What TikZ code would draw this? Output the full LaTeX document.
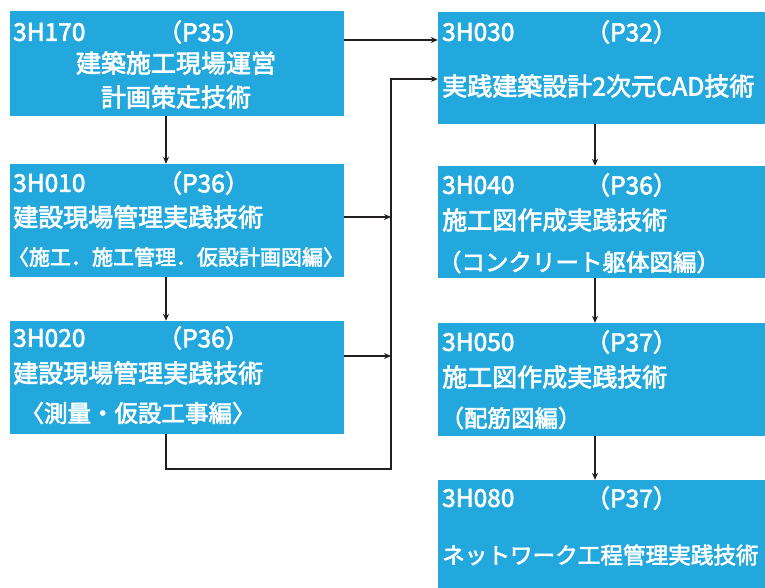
\documentclass[tikz,border=0pt]{standalone}
\usepackage{fontspec}
\newfontfamily\jp[FakeBold=2.6]{Noto Sans CJK JP}
\usetikzlibrary{arrows.meta}
\definecolor{boxblue}{RGB}{35,168,222}
\definecolor{lnc}{RGB}{35,31,32}
\begin{document}
\begin{tikzpicture}[x=1pt,y=-1pt,
  box/.style={fill=boxblue,draw=none,inner sep=0},
  t/.style={text=white,inner sep=0,font=\jp\fontsize{25}{27}\selectfont},
  ti/.style={text=white,inner sep=0,font=\jp\fontsize{24.5}{26}\selectfont},
  ts/.style={text=white,inner sep=0,font=\jp\fontsize{21}{23}\selectfont},
  tm/.style={text=white,inner sep=0,font=\jp\fontsize{23.5}{25}\selectfont},
  tn/.style={text=white,inner sep=0,font=\jp\fontsize{22.6}{24}\selectfont},
  arr/.style={draw=lnc,line width=1.1pt,-{Stealth[length=7pt,width=6pt]}}]
\useasboundingbox (0,0) rectangle (765,588);
\clip (0,0) rectangle (765,588);
% boxes
\node[box,minimum width=334pt,minimum height=105pt] (A) at (177,63.5) {};
\node[box,minimum width=334pt,minimum height=113pt] (B) at (177,220.5) {};
\node[box,minimum width=334pt,minimum height=113pt] (C) at (177,377.5) {};
\node[box,minimum width=337pt,minimum height=112pt] (D) at (606.5,68) {};
\node[box,minimum width=337pt,minimum height=112pt] (E) at (606.5,222) {};
\node[box,minimum width=337pt,minimum height=113pt] (F) at (606.5,379.5) {};
\node[box,minimum width=337pt,minimum height=118pt] (G) at (606.5,539) {};
% texts A
\node[ti,anchor=west] (A1) at (13,32) {3H170};
\node[ti] (A2) at (203.5,32) {（P35）};
\node[t] (A3) at (176,63) {建築施工現場運営};
\node[t] (A4) at (176,97) {計画策定技術};
% B
\node[ti,anchor=west] (B1) at (13,183) {3H010};
\node[ti] (B2) at (203.5,183) {（P36）};
\node[t,anchor=west] (B3) at (13,217) {建設現場管理実践技術};
\node[ts] (B4) at (176,257) {〈施工．施工管理．仮設計画図編〉};
% C
\node[ti,anchor=west] (C1) at (13,338) {3H020};
\node[ti] (C2) at (203.5,338) {（P36）};
\node[t,anchor=west] (C3) at (13,373) {建設現場管理実践技術};
\node[tm] (C4) at (138,413) {〈測量・仮設工事編〉};
% D
\node[ti,anchor=west] (D1) at (442,32) {3H030};
\node[ti] (D2) at (631.5,32) {（P32）};
\node[t,anchor=west] (D3) at (442,86) {実践建築設計2次元CAD技術};
% E
\node[ti,anchor=west] (E1) at (442,185) {3H040};
\node[ti] (E2) at (631.5,185) {（P36）};
\node[t,anchor=west] (E3) at (442,220) {施工図作成実践技術};
\node[tm] (E4) at (579,262) {（コンクリート躯体図編）};
% F
\node[ti,anchor=west] (F1) at (442,342) {3H050};
\node[ti] (F2) at (631.5,342) {（P37）};
\node[t,anchor=west] (F3) at (442,377) {施工図作成実践技術};
\node[tm] (F4) at (511,418) {（配筋図編）};
% G
\node[ti,anchor=west] (G1) at (442,498) {3H080};
\node[ti] (G2) at (631.5,498) {（P37）};
\node[tn,anchor=west] (G3) at (442,555) {ネットワーク工程管理実践技術};
% junction coordinates
\coordinate (j1) at (391,79);
\coordinate (j2) at (391,469);
% connectors
\draw[arr] ([yshift=23.5pt]A.east) -- ([yshift=23.5pt]A.east -| D.west);
\draw[arr] ([xshift=-11pt]A.south) -- ([xshift=-11pt]B.north);
\draw[arr] ([xshift=-11pt]B.south) -- ([xshift=-11pt]C.north);
\draw[arr] ([yshift=3.5pt]B.east) -- ([yshift=3.5pt]B.east -| j1);
\draw[arr] ([yshift=21.5pt]C.east) -- ([yshift=21.5pt]C.east -| j1);
\draw[arr] ([xshift=-11pt]C.south) |- (j2) -- (j1) -- (j1 -| D.west);
\draw[arr] ([xshift=-11.5pt]D.south) -- ([xshift=-11.5pt]E.north);
\draw[arr] ([xshift=-11.5pt]E.south) -- ([xshift=-11.5pt]F.north);
\draw[arr] ([xshift=-11.5pt]F.south) -- ([xshift=-11.5pt]G.north);
\end{tikzpicture}
\end{document}
